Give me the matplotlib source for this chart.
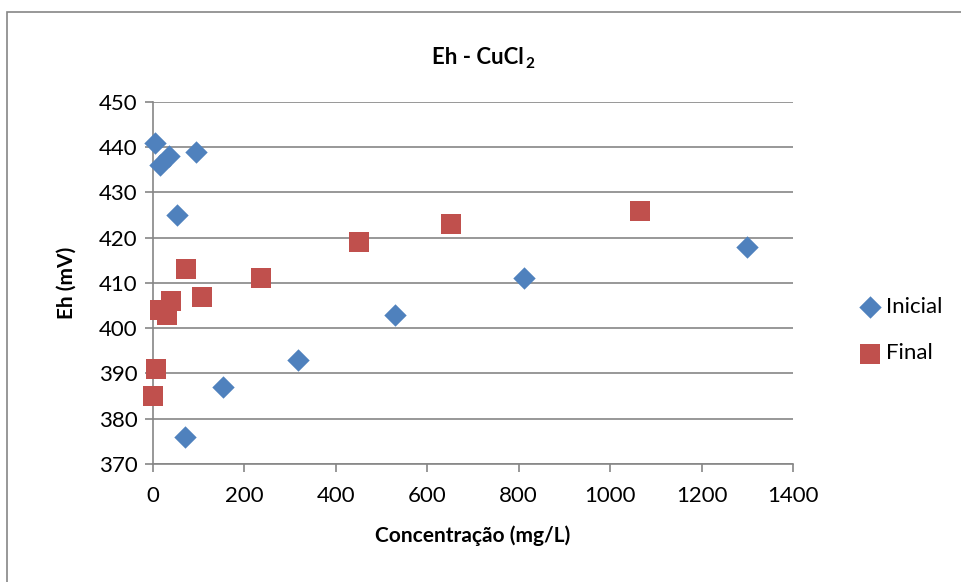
import matplotlib
matplotlib.use("Agg")
import matplotlib.pyplot as plt
from matplotlib.patches import Rectangle

plt.rcParams['font.family'] = ['Lato', 'DejaVu Sans']

xlabel = "Concentração (mg/L)"
ylabel = "Eh (mV)"

inicial_x = [5, 16, 34, 94, 52, 69, 153, 318, 530, 812, 1300]
inicial_y = [441, 436, 438, 439, 425, 376, 387, 393, 403, 411, 418]

final_x = [1, 6, 16, 30, 39, 73, 107, 236, 450, 652, 1065]
final_y = [385, 391, 404, 403, 406, 413, 407, 411, 419, 423, 426]

xticks = [0, 200, 400, 600, 800, 1000, 1200, 1400]
yticks = [370, 380, 390, 400, 410, 420, 430, 440, 450]

fig = plt.figure(figsize=(9.61, 5.82), dpi=100)
ax = fig.add_axes([153/961, 1-464/582, (793-153)/961, (464-102)/582])

grid_c = '#868686'
ax.scatter(inicial_x, inicial_y, marker='D', s=130, color='#4F81BD', label='Inicial',
           zorder=3, linewidths=0, clip_on=False)
ax.scatter(final_x, final_y, marker='s', s=200, color='#C0504D', label='Final',
           zorder=3, linewidths=0, clip_on=False)

ax.set_xlim(0, 1400)
ax.set_ylim(370, 450)
ax.set_xticks(xticks)
ax.set_yticks(yticks)
ax.yaxis.grid(True, color=grid_c, linewidth=1.2)
ax.set_axisbelow(True)
for s in ['top', 'right']:
    ax.spines[s].set_visible(False)
for s in ['left', 'bottom']:
    ax.spines[s].set_color(grid_c)
    ax.spines[s].set_linewidth(1.2)
ax.tick_params(axis='both', colors=grid_c, labelcolor='black', labelsize=16, length=6, width=1.2)
ax.tick_params(axis='x', pad=10)
ax.tick_params(axis='y', pad=5)

ax.set_xlabel(xlabel, fontsize=15, fontweight='bold', labelpad=14)
ax.set_ylabel(ylabel, fontsize=15, fontweight='bold', labelpad=16)

t = fig.text(478/961, 1-58/582, "Eh - CuCl", fontsize=16, fontweight='bold', ha='center', va='center')
fig.canvas.draw()
bb = t.get_window_extent(renderer=fig.canvas.get_renderer())
fig.text((bb.x1 + 1) / fig.bbox.width, 1-64/582, "2", fontsize=11, fontweight='bold',
         ha='left', va='center')

leg = ax.legend(loc='center left', bbox_to_anchor=(848/961, 1-330/582), bbox_transform=fig.transFigure,
                frameon=False, fontsize=16,
                labelspacing=1.2, handletextpad=0.1, handlelength=1.2, borderaxespad=0)

fig.patches.append(Rectangle((7/961, -0.1), 1.1, 1-12/582+0.1, transform=fig.transFigure,
                             fill=False, edgecolor='#868686', linewidth=1.2))

fig.savefig('out.png', dpi=100)
